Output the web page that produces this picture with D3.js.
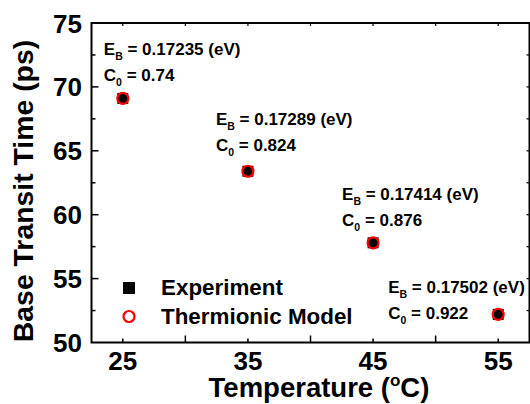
<!DOCTYPE html>
<html>
<head>
<meta charset="utf-8">
<script src="https://cdn.jsdelivr.net/npm/d3@7"></script>
<style>
  body { margin: 0; background: #fff; }
  svg { display: block; font-family: "Liberation Sans", Arial, sans-serif; font-weight: bold; }
</style>
</head>
<body>
<svg id="chart" width="530" height="404"></svg>
<script>
// data
var temps = [25, 35, 45, 55];
var experiment = [69.1, 63.4, 57.8, 52.2];
var model = [69.1, 63.4, 57.8, 52.2];
var ebValues = ["0.17235", "0.17289", "0.17414", "0.17502"];
var c0Values = ["0.74", "0.824", "0.876", "0.922"];
var xTickLabels = [25, 35, 45, 55];
var yTickLabels = [50, 55, 60, 65, 70, 75];

var svg = d3.select("#chart");
// note: "top" is taken by window.top, so use plot* names
var plotL = 91.5, plotR = 529.5, plotT = 23, plotB = 342.5;

var x = d3.scaleLinear().domain([22.5, 57.5]).range([plotL, plotR]);
var y = d3.scaleLinear().domain([50, 75]).range([plotB, plotT]);

// frame
svg.append("rect")
    .attr("x", plotL).attr("y", plotT)
    .attr("width", plotR - plotL).attr("height", plotB - plotT)
    .attr("fill", "none").attr("stroke", "#000").attr("stroke-width", 2);

// bottom ticks: labelled ones are short, the in-between ones long
var xt = d3.range(25, 56, 5);
svg.selectAll(".xb").data(xt).enter().append("line")
    .attr("x1", d => x(d)).attr("x2", d => x(d))
    .attr("y1", plotB).attr("y2", d => plotB - (d % 10 === 0 ? 7 : 4))
    .attr("stroke", "#000").attr("stroke-width", 1.5);
svg.selectAll(".xt").data(xt).enter().append("line")
    .attr("x1", d => x(d)).attr("x2", d => x(d))
    .attr("y1", plotT).attr("y2", plotT + 3)
    .attr("stroke", "#000").attr("stroke-width", 1.2);

var yt = d3.range(52.5, 75, 2.5);
svg.selectAll(".yl").data(yt).enter().append("line")
    .attr("x1", plotL).attr("x2", d => plotL + (d % 5 === 0 ? 7 : 4))
    .attr("y1", d => y(d)).attr("y2", d => y(d))
    .attr("stroke", "#000").attr("stroke-width", 1.5);
svg.selectAll(".yr").data(yt).enter().append("line")
    .attr("x1", plotR).attr("x2", plotR - 3)
    .attr("y1", d => y(d)).attr("y2", d => y(d))
    .attr("stroke", "#000").attr("stroke-width", 1.2);

// tick labels
svg.selectAll(".xl").data(xTickLabels).enter().append("text")
    .attr("x", d => x(d)).attr("y", 370)
    .attr("text-anchor", "middle").attr("font-size", 26)
    .text(d => d);
svg.selectAll(".ylab").data(yTickLabels).enter().append("text")
    .attr("x", 82).attr("y", d => y(d) + 9.5)
    .attr("text-anchor", "end").attr("font-size", 26)
    .text(d => d);

// axis titles
var xTitle = svg.append("text")
    .attr("x", 319).attr("y", 397)
    .attr("text-anchor", "middle").attr("font-size", 27.5);
xTitle.append("tspan").text("Temperature (");
xTitle.append("tspan").attr("font-size", 17).attr("dy", -11).text("o");
xTitle.append("tspan").attr("dy", 11).text("C)");

svg.append("text")
    .attr("transform", "translate(33,191) rotate(-90)")
    .attr("text-anchor", "middle").attr("font-size", 28.4)
    .text("Base Transit Time (ps)");

// markers
var pts = temps.map((t, i) => ({t: t, e: experiment[i], m: model[i]}));
svg.selectAll(".sq").data(pts).enter().append("rect")
    .attr("x", d => x(d.t) - 5.5).attr("y", d => y(d.e) - 5.5)
    .attr("width", 11).attr("height", 11).attr("fill", "#000");
svg.selectAll(".ci").data(pts).enter().append("circle")
    .attr("cx", d => x(d.t)).attr("cy", d => y(d.m)).attr("r", 5.5)
    .attr("fill", "none").attr("stroke", "#ff0000").attr("stroke-width", 2.2);

// annotations (pixel offsets from each point)
var labelOffsets = [[-19, -43], [-32, -46], [-31, -43], [-110, -21]];
pts.forEach(function(d, i) {
  var lx = x(d.t) + labelOffsets[i][0];
  var ly = y(d.e) + labelOffsets[i][1];
  var t1 = svg.append("text").attr("x", lx).attr("y", ly).attr("font-size", 17);
  t1.append("tspan").text("E");
  t1.append("tspan").attr("font-size", 10.5).attr("dy", 5).text("B");
  t1.append("tspan").attr("dy", -5).text(" = " + ebValues[i] + " (eV)");
  var t2 = svg.append("text").attr("x", lx).attr("y", ly + 26).attr("font-size", 17);
  t2.append("tspan").text("C");
  t2.append("tspan").attr("font-size", 10.5).attr("dy", 5).text("0");
  t2.append("tspan").attr("dy", -5).text(" = " + c0Values[i]);
});

// legend
svg.append("rect").attr("x", 123).attr("y", 282).attr("width", 12).attr("height", 12).attr("fill", "#000");
svg.append("text").attr("x", 161).attr("y", 295).attr("font-size", 22.4).text("Experiment");
svg.append("circle").attr("cx", 129).attr("cy", 316.5).attr("r", 5.5)
    .attr("fill", "none").attr("stroke", "#ff0000").attr("stroke-width", 2.2);
svg.append("text").attr("x", 161).attr("y", 323.5).attr("font-size", 22.4).text("Thermionic Model");
</script>
</body>
</html>
